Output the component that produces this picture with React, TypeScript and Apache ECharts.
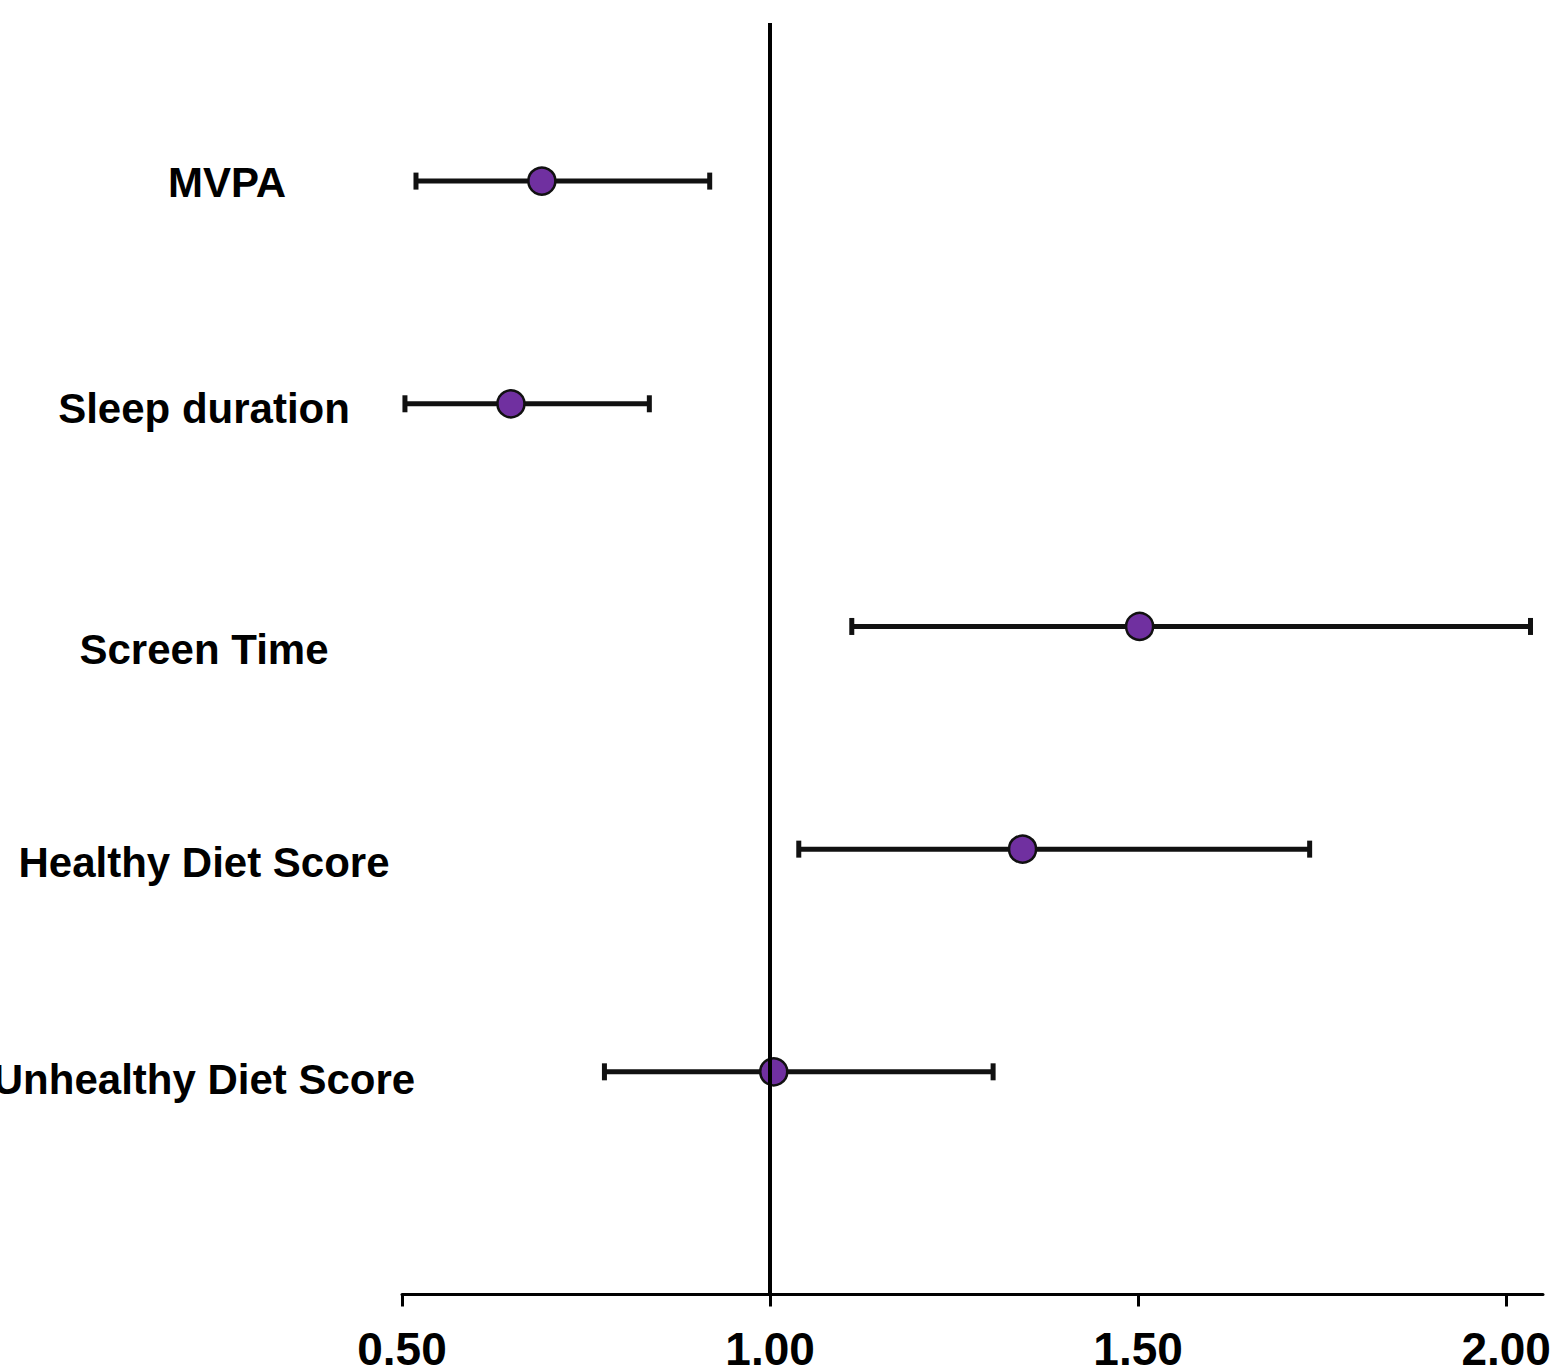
import React, { useEffect, useRef } from "react";
import * as echarts from "echarts";

const categories = ["MVPA", "Sleep duration", "Screen Time", "Healthy Diet Score", "Unhealthy Diet Score"];
const estimates = [0.69, 0.648, 1.502, 1.343, 1.005];
const lowerCI = [0.519, 0.504, 1.111, 1.039, 0.775];
const upperCI = [0.918, 0.836, 2.033, 1.733, 1.303];
const xTickValues = [0.5, 1.0, 1.5, 2.0];
const xTickLabels = ["0.50", "1.00", "1.50", "2.00"];
const referenceValue = 1.0;

// label fine-tuning (vertical / horizontal offsets in px) to match reference placement
const labelDy = [1.5, 5, 23, 13.5, 7.5];
const labelDx = [23, 0, 0, 0, 0];

export default function App() {
  const ref = useRef<HTMLDivElement>(null);

  useEffect(() => {
    if (!ref.current) return;
    const chart = echarts.init(ref.current, null, { renderer: "svg" });
    const n = categories.length;
    const yPos = categories.map((_, i) => n - i);

    const rich: Record<string, any> = {};
    categories.forEach((_, i) => {
      rich["c" + i] = {
        fontFamily: "Liberation Sans, Arial, sans-serif",
        fontWeight: "bold",
        fontSize: 42,
        color: "#000",
        align: "center",
        padding: [
          Math.max(0, 2 * labelDy[i]),
          Math.max(0, -2 * labelDx[i]),
          Math.max(0, -2 * labelDy[i]),
          Math.max(0, 2 * labelDx[i]),
        ],
      };
    });

    const option: any = {
      animation: false,
      backgroundColor: "#fff",
      grid: {
        left: 402,
        right: 10,
        top: 23,
        bottom: 73.5,
        containLabel: false,
        outerBoundsMode: "none",
      },
      xAxis: {
        type: "value",
        min: 0.5,
        max: 2.05,
        interval: 0.5,
        splitLine: { show: false },
        axisLine: { show: true, lineStyle: { color: "#000", width: 3 } },
        axisTick: {
          show: true,
          length: 12,
          lineStyle: { color: "#000", width: 3 },
          customValues: xTickValues,
        },
        axisLabel: {
          customValues: xTickValues,
          margin: 34,
          lineHeight: 40,
          fontFamily: "Liberation Sans, Arial, sans-serif",
          fontWeight: "bold",
          fontSize: 46,
          color: "#000",
          formatter: (v: number) => {
            const idx = xTickValues.findIndex((t) => Math.abs(t - v) < 1e-9);
            return idx >= 0 ? xTickLabels[idx] : "";
          },
        },
      },
      yAxis: {
        type: "value",
        min: 0,
        max: 5.71,
        interval: 1,
        splitLine: { show: false },
        axisLine: { show: false },
        axisTick: { show: false },
        axisLabel: {
          customValues: yPos,
          margin: 198,
          align: "center",
          formatter: (v: number) => {
            const i = n - Math.round(v);
            if (i < 0 || i >= n || Math.abs(v - Math.round(v)) > 1e-9) return "";
            return "{c" + i + "|" + categories[i] + "}";
          },
          rich,
        },
      },
      series: [
        {
          type: "custom",
          name: "CI",
          z: 2,
          data: categories.map((_, i) => [lowerCI[i], upperCI[i], yPos[i]]),
          renderItem: (params: any, api: any) => {
            const lo = api.coord([api.value(0), api.value(2)]);
            const hi = api.coord([api.value(1), api.value(2)]);
            const cap = 8.5;
            const style = { stroke: "#111", lineWidth: 5 };
            return {
              type: "group",
              children: [
                { type: "line", shape: { x1: lo[0], y1: lo[1], x2: hi[0], y2: hi[1] }, style },
                { type: "line", shape: { x1: lo[0], y1: lo[1] - cap, x2: lo[0], y2: lo[1] + cap }, style },
                { type: "line", shape: { x1: hi[0], y1: hi[1] - cap, x2: hi[0], y2: hi[1] + cap }, style },
              ],
            };
          },
          markLine: {
            silent: true,
            symbol: ["none", "none"],
            label: { show: false },
            lineStyle: { color: "#000", width: 4, type: "solid" },
            data: [{ xAxis: referenceValue }],
          },
        },
        {
          type: "scatter",
          name: "Estimate",
          z: 3,
          symbol: "circle",
          symbolSize: 27,
          itemStyle: { color: "#7030A0", borderColor: "#111", borderWidth: 2.5, opacity: 1 },
          data: categories.map((_, i) => [estimates[i], yPos[i]]),
        },
      ],
    };

    chart.setOption(option);
    return () => chart.dispose();
  }, []);

  return (
    <div
      ref={ref}
      style={{ position: "absolute", left: 0, top: 0, width: 1553, height: 1368, background: "#fff" }}
    />
  );
}
